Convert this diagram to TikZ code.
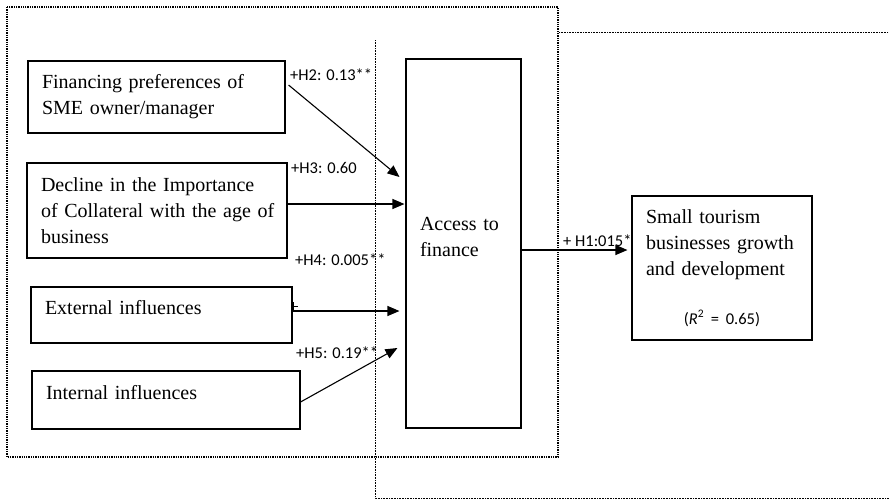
\documentclass[tikz,border=0pt]{standalone}
\usepackage{fontspec}
\setmainfont{Liberation Serif}
\newfontfamily\carlito{Carlito}
\usetikzlibrary{arrows.meta}

\begin{document}
\begin{tikzpicture}[x=1pt,y=-1pt,
	box/.style={draw,line width=1.1pt,fill=white,inner xsep=14pt,inner ysep=0pt,align=left,font=\fontsize{20}{26}\selectfont},
	lbl/.style={anchor=west,inner sep=0pt,font=\carlito\fontsize{16.5}{20}\selectfont},
	arr/.style={line width=1.1pt,-{Triangle[length=12pt,width=10pt]}},
	frame/.style={line width=1.3pt,densely dotted},
	thinframe/.style={line width=0.6pt,densely dotted}]
	\useasboundingbox (0,0) rectangle (889,499);
	% dotted frames
	\draw[frame] (7,7) rectangle (558,457);
	\draw[thinframe] (375,40) -- (375,498) -- (889,498);
	\draw[thinframe] (559,32) -- (889,32);
	% factors
	\node[box,text width=229pt,minimum height=72pt] (pref) at (156.5,97) {Financing preferences of\\SME owner/manager};
	\node[box,text width=232pt,minimum height=95pt] (coll) at (157,210.5) {Decline in the Importance\\\mbox{of Collateral with the age of}\\business};
	\node[box,text width=233pt,minimum height=56pt] (ext) at (161.5,315) {External influences\\[-10pt]~};
	\node[box,text width=240pt,minimum height=58pt] (int) at (166,400) {Internal influences\\[-10pt]~};
	\node[box,text width=87pt,minimum height=369pt] (acc) at (463.5,243.5) {Access to\\finance\\[-12pt]~};
	% path labels
	\node[lbl] (h2) at (290,75) {+H2: 0.13**};
	\node[lbl] (h3) at (291,168) {+H3: 0.60};
	\node[lbl] (h4) at (295,260) {+H4: 0.005**};
	\node[lbl] (h5) at (296,352.5) {+H5: 0.19**};
	\node[lbl] (h1) at (563,241) {+ H1:015**};
	\node[box,text width=152pt,minimum height=144pt] (grow) at (722,268) {Small tourism\\businesses growth\\and development\\[22.5pt]\makebox[\hsize]{\carlito\fontsize{16.5}{26}\selectfont(\textit{R}\textsuperscript{2} = 0.65)}};
	\draw[line width=0.9pt] (ext.east) ++(1,-13) -- ++(0,8) ++(0,-4) -- ++(4,0);
	% arrows
	\draw[arr] ([xshift=3pt,yshift=12pt]pref.east) -- ([xshift=-6pt,yshift=66.5pt]acc.west);
	\draw[arr] ([yshift=6.5pt]coll.east) -- ([xshift=-1pt,yshift=39.5pt]acc.west);
	\draw[arr] ([yshift=4pt]ext.east) -- ([xshift=-6pt,yshift=-67.5pt]acc.west);
	\draw[arr] ([yshift=-2pt]int.east) -- ([xshift=-8pt,yshift=-104.5pt]acc.west);
	\draw[arr] ([yshift=-6.5pt]acc.east) -- ([xshift=-4pt,yshift=18pt]grow.west);
\end{tikzpicture}
\end{document}
